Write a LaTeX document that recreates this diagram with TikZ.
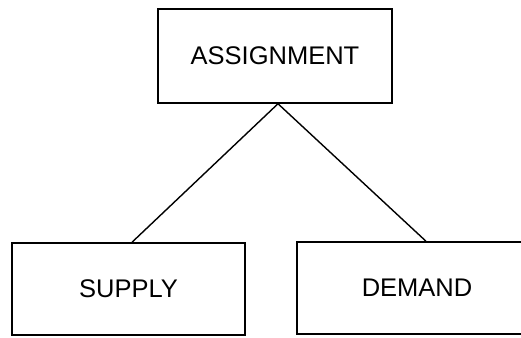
\documentclass[tikz,border=0pt]{standalone}
\usepackage{fontspec}
\setmainfont{Liberation Sans}
\begin{document}
\begin{tikzpicture}[x=1pt,y=1pt,
  boxnode/.style={draw=black, line width=1.5pt, inner sep=0pt, font=\fontsize{25.5}{30}\selectfont, text=black},
  link/.style={draw=black, line width=1.4pt}]
\useasboundingbox (0,0) rectangle (521,337);
\begin{scope}
\clip (0,0) rectangle (521,337);
\node[boxnode, minimum width=234pt, minimum height=94pt] (assign) at (275,281) {ASSIGNMENT};
\node[boxnode, minimum width=233pt, minimum height=92pt] (supply) at (128.5,48) {SUPPLY};
\node[boxnode, minimum width=240pt, minimum height=92pt] (demand) at (417,49) {DEMAND};
\draw[link] ([xshift=3pt]assign.south) -- ([xshift=3.5pt]supply.north);
\draw[link] ([xshift=3pt]assign.south) -- ([xshift=9pt]demand.north);
\end{scope}
\end{tikzpicture}
\end{document}
